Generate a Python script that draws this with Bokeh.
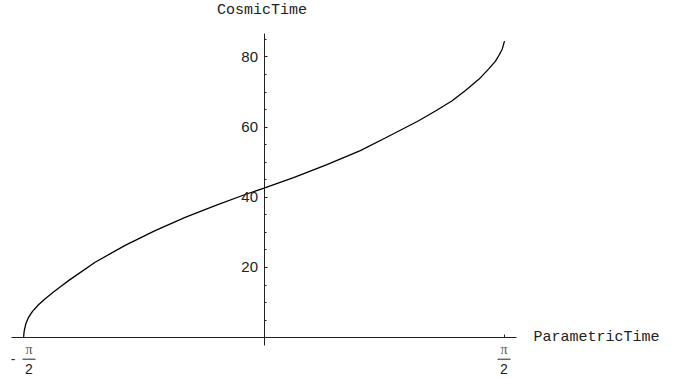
import numpy as np
from bokeh.plotting import figure
from bokeh.models import (Range1d, LinearAxis, FixedTicker, CustomJSTickFormatter,
                          ColumnDataSource, Label)
from bokeh.embed import file_html
from bokeh.resources import INLINE
from bokeh.core.properties import value

# ---- data ----
parametric_time = [-1.5708, -1.566, -1.556, -1.538, -1.512, -1.473, -1.429, -1.375,
                   -1.321, -1.272, -1.103, -0.907, -0.711, -0.515, -0.319, -0.123,
                   0.0, 0.193, 0.411, 0.629, 0.792, 0.903, 1.010, 1.120, 1.229,
                   1.316, 1.403, 1.468, 1.512, 1.534, 1.556, 1.5708]
cosmic_time = [0.0, 2.0, 3.9, 5.8, 7.5, 9.4, 11.1, 13.0,
               14.8, 16.4, 21.5, 26.3, 30.5, 34.3, 37.6, 40.8,
               42.6, 45.6, 49.3, 53.3, 56.9, 59.4, 61.8, 64.6, 67.5,
               70.4, 73.6, 76.6, 78.8, 80.4, 82.2, 84.5]

x_ticks = [-np.pi / 2, np.pi / 2]
x_tick_signs = ["-", ""]
x_tick_num = ["\u03c0", "\u03c0"]
x_tick_den = ["2", "2"]
y_major = [20, 40, 60, 80]
y_minor = [5, 10, 15, 25, 30, 35, 45, 50, 55, 65, 70, 75, 85]

x_title = "ParametricTime"
y_title = "CosmicTime"

# ---- figure ----
W, H = 673, 379
X0, X1 = -1.7211, 2.6747
Y0, Y1 = -11.91, 96.07
px_per_x = W / (X1 - X0)
px_per_y = H / (Y1 - Y0)

p = figure(width=W, height=H, output_backend="svg", toolbar_location=None,
           x_range=Range1d(X0, X1), y_range=Range1d(Y0, Y1),
           x_axis_location=None, y_axis_location=None,
           min_border=0, min_border_left=0, min_border_right=0,
           min_border_top=0, min_border_bottom=0)
p.outline_line_color = None
p.background_fill_color = "white"
p.border_fill_color = "white"
p.grid.visible = False

axis_col = "#222222"

xaxis = LinearAxis(fixed_location=0, bounds=(-1.649, 1.649),
                   ticker=FixedTicker(ticks=x_ticks, minor_ticks=[]),
                   formatter=CustomJSTickFormatter(code="return ''"))
xaxis.axis_line_color = axis_col
xaxis.axis_line_width = 1
xaxis.major_tick_in = 3
xaxis.major_tick_out = 0
xaxis.major_tick_line_color = axis_col
xaxis.minor_tick_line_color = None
p.add_layout(xaxis, "below")

yaxis = LinearAxis(fixed_location=0, bounds=(-2.1, 86.8),
                   ticker=FixedTicker(ticks=y_major, minor_ticks=y_minor))
yaxis.axis_line_color = axis_col
yaxis.axis_line_width = 1
yaxis.major_tick_in = 3
yaxis.major_tick_out = 0
yaxis.minor_tick_in = 2
yaxis.minor_tick_out = 0
yaxis.major_tick_line_color = axis_col
yaxis.minor_tick_line_color = axis_col
yaxis.major_label_standoff = 6
yaxis.major_label_text_font = "Liberation Sans"
yaxis.major_label_text_font_size = "15px"
yaxis.major_label_text_color = "#222222"
p.add_layout(yaxis, "left")

# curve
p.line(parametric_time, cosmic_time, line_color="black", line_width=1.3)

# fraction tick labels for the x axis
neg = [t < 0 for t in x_ticks]
frac_dx = [5.5 if n else -0.5 for n in neg]
sign_dx = [-10.5 if n else 0 for n in neg]
frac_src = ColumnDataSource(dict(
    x=x_ticks,
    y=[0.0] * len(x_ticks),
    sign=x_tick_signs,
    num=x_tick_num,
    den=x_tick_den,
    frac_dx=frac_dx,
    sign_dx=sign_dx,
    bar_x0=[t + (d - 6.5) / px_per_x for t, d in zip(x_ticks, frac_dx)],
    bar_x1=[t + (d + 6.5) / px_per_x for t, d in zip(x_ticks, frac_dx)],
    bar_y=[-21.5 / px_per_y] * len(x_ticks),
))
p.text(x="x", y="y", text="num", source=frac_src, x_offset="frac_dx", y_offset=12,
       text_align="center", text_baseline="middle", text_font=value("Liberation Serif"),
       text_font_size="14px", text_color="#555555")
p.segment(x0="bar_x0", x1="bar_x1", y0="bar_y", y1="bar_y", source=frac_src,
          line_color="#222222", line_width=1)
p.text(x="x", y="y", text="den", source=frac_src, x_offset="frac_dx", y_offset=31,
       text_align="center", text_baseline="middle", text_font=value("Liberation Sans"),
       text_font_size="14px", text_color="#222222")
p.text(x="x", y="y", text="sign", source=frac_src, x_offset="sign_dx", y_offset=21,
       text_align="center", text_baseline="middle", text_font=value("Liberation Sans"),
       text_font_size="14px", text_color="#333333")

# axis titles
p.add_layout(Label(x=0, y=0, x_offset=269.5, y_offset=0, text=x_title,
                   text_align="left", text_baseline="middle",
                   text_font="Liberation Mono", text_font_size="15px",
                   text_color="#222222"))
p.add_layout(Label(x=0, y=86.8, x_offset=-2, y_offset=23, text=y_title,
                   text_align="center", text_baseline="middle",
                   text_font="Liberation Mono", text_font_size="15px",
                   text_color="#222222"))

open("out.html", "w").write(file_html(p, INLINE))
